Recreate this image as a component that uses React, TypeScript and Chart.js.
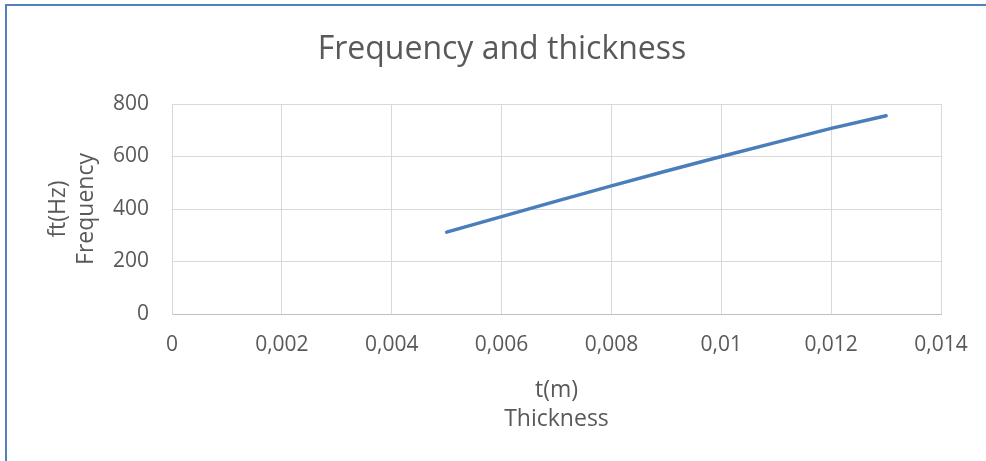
import React, { useEffect, useRef } from "react";
import { Chart, registerables } from "chart.js";

Chart.register(...registerables);

// Plate thickness (m) and the measured frequency (Hz)
const thickness = [0.005, 0.006, 0.007, 0.008, 0.009, 0.01, 0.011, 0.012, 0.013];
const frequency = [312, 371, 430, 488, 545, 600, 654, 707, 755];

// Axis tick values
const xTickValues = [0, 0.002, 0.004, 0.006, 0.008, 0.01, 0.012, 0.014];
const yTickValues = [0, 200, 400, 600, 800];

const chartTitle = "Frequency and thickness";
const xTitle = ["t(m)", "Thickness"];
const yTitle = ["ft(Hz)", "Frequency"];

const FONT = "'Open Sans', 'DejaVu Sans', sans-serif";
const TEXT = "#595959";
const GRID = "#d9d9d9";

const fmt = (v: number) => String(Number(v.toFixed(4))).replace(".", ",");

export default function App() {
  const canvasRef = useRef<HTMLCanvasElement | null>(null);

  useEffect(() => {
    const canvas = canvasRef.current;
    if (!canvas) return;
    const chart = new Chart(canvas, {
      type: "line",
      data: {
        datasets: [
          {
            data: thickness.map((t, i) => ({ x: t, y: frequency[i] })),
            borderColor: "#4a7ebb",
            borderWidth: 3.5,
            borderCapStyle: "round",
            borderJoinStyle: "round",
            pointRadius: 0,
            pointHoverRadius: 0,
            tension: 0,
            fill: false,
          },
        ],
      },
      options: {
        responsive: false,
        animation: false,
        events: [],
        layout: { padding: { left: 63, right: 45, top: 0, bottom: 0 } },
        plugins: {
          legend: { display: false },
          tooltip: { enabled: false },
          title: {
            display: true,
            text: chartTitle,
            color: TEXT,
            font: { family: FONT, size: 32, weight: "normal", lineHeight: 1.2 },
            padding: { top: 31, bottom: 34.6 },
          },
        },
        scales: {
          x: {
            type: "linear",
            min: 0,
            max: 0.014,
            afterBuildTicks: (scale: any) => {
              scale.ticks = xTickValues.map((v) => ({ value: v }));
            },
            afterFit: (scale: any) => {
              scale.height = 147;
            },
            ticks: {
              color: TEXT,
              font: { family: FONT, size: 21 },
              padding: 18,
              maxRotation: 0,
              autoSkip: false,
              callback: (v: any) => fmt(Number(v)),
            },
            grid: { color: GRID, lineWidth: 1, drawTicks: false },
            border: { color: "#bfbfbf", width: 1 },
            title: {
              display: true,
              text: xTitle,
              color: TEXT,
              font: { family: FONT, size: 23, lineHeight: 1.22 },
              padding: { top: 0, bottom: 28 },
            },
          },
          y: {
            type: "linear",
            min: 0,
            max: 800,
            afterBuildTicks: (scale: any) => {
              scale.ticks = yTickValues.map((v) => ({ value: v }));
            },
            afterFit: (scale: any) => {
              scale.width = 109;
            },
            ticks: {
              color: TEXT,
              font: { family: FONT, size: 21 },
              padding: 23,
              callback: (v: any) => String(v),
            },
            grid: { color: GRID, lineWidth: 1, drawTicks: false },
            border: { color: GRID, width: 1 },
            title: {
              display: true,
              text: yTitle,
              color: TEXT,
              font: { family: FONT, size: 23, lineHeight: 1.22 },
              padding: { top: -19, bottom: 0 },
            },
          },
        },
      },
    } as any);
    return () => chart.destroy();
  }, []);

  return (
    <div
      style={{
        position: "fixed",
        left: 0,
        top: 0,
        width: 986,
        height: 461,
        background: "#ffffff",
        overflow: "hidden",
      }}
    >
      <div
        style={{
          position: "absolute",
          left: 5,
          top: 4,
          width: 1100,
          height: 600,
          borderLeft: "2px solid #4f81bd",
          borderTop: "2px solid #4f81bd",
        }}
      />
      <canvas
        ref={canvasRef}
        width={986}
        height={461}
        style={{ position: "absolute", left: 0, top: 0, width: 986, height: 461 }}
      />
    </div>
  );
}
